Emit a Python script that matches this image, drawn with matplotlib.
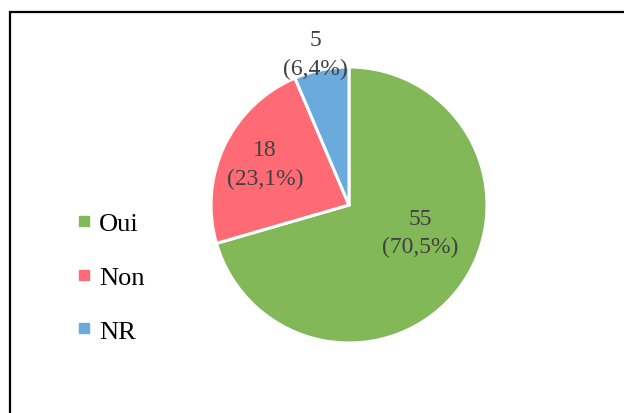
import matplotlib.pyplot as plt
from matplotlib.lines import Line2D
from matplotlib.patches import Rectangle

labels = ["Oui", "Non", "NR"]
counts = [55, 18, 5]
percents = ["70,5%", "23,1%", "6,4%"]
colors = ["#82B858", "#FF6B75", "#6AAADC"]

plt.rcParams["font.family"] = ["Liberation Serif", "DejaVu Serif"]

fig = plt.figure(figsize=(6.24, 4.14), dpi=100)

# frame around the chart area (right and bottom run off the picture)
frame = Rectangle((10 / 624, -0.5), 2, 1.5 - 12.5 / 414, transform=fig.transFigure,
                  fill=False, edgecolor="black", linewidth=1.6, clip_on=False)
fig.patches.append(frame)

ax = fig.add_axes([211 / 624, 1 - 344 / 414, 276 / 624, 276 / 414])
wedges, _ = ax.pie(counts, colors=colors, startangle=90, counterclock=False,
                   radius=1, wedgeprops=dict(edgecolor="white", linewidth=2.2))
ax.set_xlim(-1, 1)
ax.set_ylim(-1, 1)
ax.set_aspect("equal")
ax.axis("off")

# data labels (value + percentage)
label_pos = [(0.514, -0.2), (-0.609, 0.297), (-0.243, 1.094)]
for (x, y), n, p in zip(label_pos, counts, percents):
    ax.text(x, y, "%d\n(%s)" % (n, p), ha="center", va="center", fontsize=17,
            color="#404040", linespacing=1.45, clip_on=False)

handles = [Line2D([], [], marker="s", linestyle="none", markersize=7.2,
                  markerfacecolor=c, markeredgecolor=c) for c in colors]
fig.legend(handles, labels, loc="center left", bbox_to_anchor=(78 / 624, 1 - 278 / 414),
           frameon=False, fontsize=19, handlelength=0.45, handletextpad=0.34,
           labelspacing=1.15, borderpad=0, borderaxespad=0)

fig.savefig("out.png", dpi=100)
